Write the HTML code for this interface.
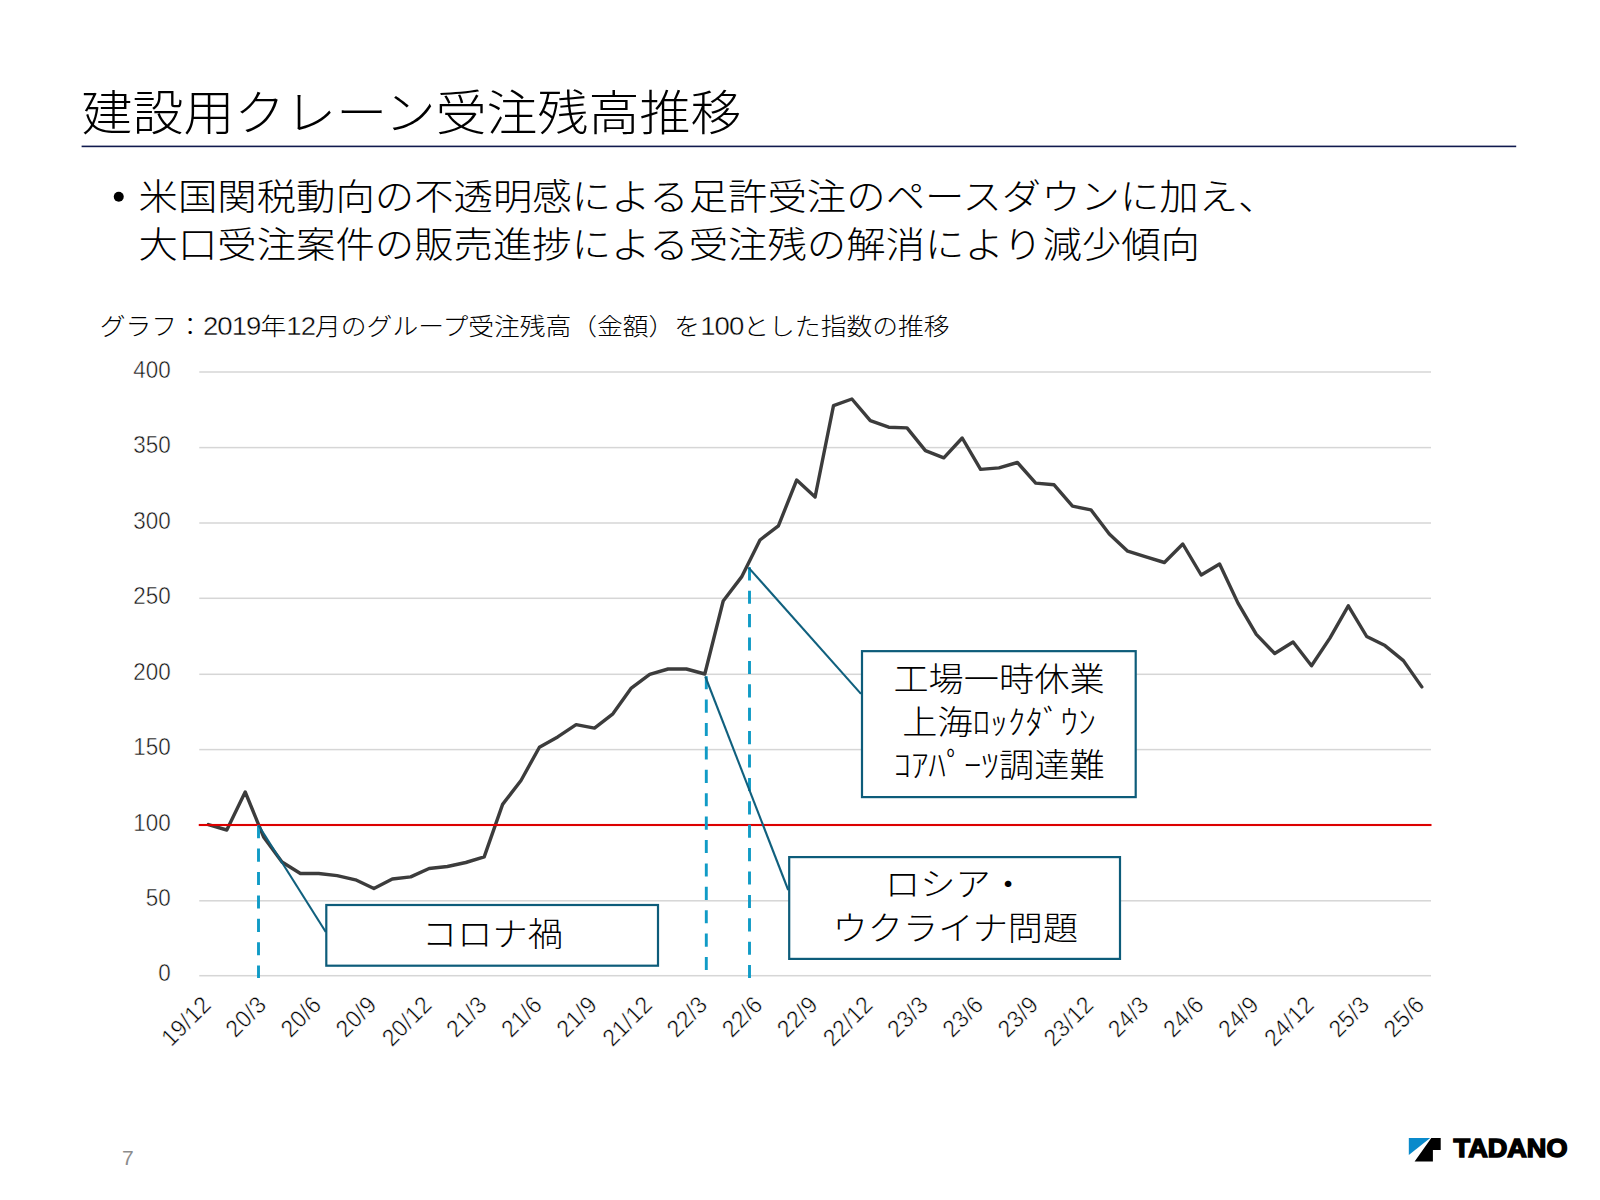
<!DOCTYPE html>
<html lang="ja">
<head>
<meta charset="utf-8">
<title>建設用クレーン受注残高推移</title>
<style>
html,body{margin:0;padding:0;background:#fff;}
body{width:1600px;height:1200px;overflow:hidden;position:relative;font-family:'Liberation Sans','Noto Sans CJK JP',sans-serif;}
svg{position:absolute;left:0;top:0;display:block;}
text{font-family:'Liberation Sans','Noto Sans CJK JP',sans-serif;}
.t300{font-weight:300;}
.t400{font-weight:400;}
.thin{stroke:#fff;stroke-width:0.45px;}
.cd{font-size:27.6px;letter-spacing:-0.95px;}
.t700{font-weight:700;}
</style>
</head>
<body>
<svg width="1600" height="1200" viewBox="0 0 1600 1200">
<rect x="0" y="0" width="1600" height="1200" fill="#ffffff"/>
<text class="t300" transform="translate(81.5,129.9) scale(1.0,0.93)" font-size="50.97" fill="#000">建設用クレーン受注残高推移</text>
<rect x="81.6" y="145.6" width="1434.6" height="1.6" fill="#101a4e"/>
<circle cx="118.75" cy="196.75" r="5" fill="#000"/>
<text class="t300" transform="translate(138.5,209.6) scale(1.0,0.93)" font-size="39.4" fill="#000">米国関税動向の不透明感による足許受注のペースダウンに加え、</text>
<text class="t300" transform="translate(138.5,258.2) scale(1.0,0.93)" font-size="39.4" fill="#000">大口受注案件の販売進捗による受注残の解消により減少傾向</text>
<text class="t300" transform="translate(99.8,334.5) scale(1.0,0.92)" font-size="25.8" fill="#000">グラフ：<tspan class="thin cd">2019</tspan>年<tspan class="thin cd">12</tspan>月のグループ受注残高（金額）を<tspan class="thin cd">100</tspan>とした指数の推移</text>
<rect x="199.25" y="371.25" width="1231.75" height="1.5" fill="#d6d6d6"/>
<rect x="199.25" y="446.85" width="1231.75" height="1.5" fill="#d6d6d6"/>
<rect x="199.25" y="522.25" width="1231.75" height="1.5" fill="#d6d6d6"/>
<rect x="199.25" y="597.55" width="1231.75" height="1.5" fill="#d6d6d6"/>
<rect x="199.25" y="673.55" width="1231.75" height="1.5" fill="#d6d6d6"/>
<rect x="199.25" y="748.85" width="1231.75" height="1.5" fill="#d6d6d6"/>
<rect x="199.25" y="900.05" width="1231.75" height="1.5" fill="#d6d6d6"/>
<rect x="199.25" y="974.95" width="1231.75" height="1.5" fill="#d6d6d6"/>
<text class="t300 thin" transform="translate(170.6,377.6) scale(1.0,1.07)" font-size="22.4" text-anchor="end" fill="#141414">400</text>
<text class="t300 thin" transform="translate(170.6,453.2) scale(1.0,1.07)" font-size="22.4" text-anchor="end" fill="#141414">350</text>
<text class="t300 thin" transform="translate(170.6,528.6) scale(1.0,1.07)" font-size="22.4" text-anchor="end" fill="#141414">300</text>
<text class="t300 thin" transform="translate(170.6,603.9) scale(1.0,1.07)" font-size="22.4" text-anchor="end" fill="#141414">250</text>
<text class="t300 thin" transform="translate(170.6,679.9) scale(1.0,1.07)" font-size="22.4" text-anchor="end" fill="#141414">200</text>
<text class="t300 thin" transform="translate(170.6,755.2) scale(1.0,1.07)" font-size="22.4" text-anchor="end" fill="#141414">150</text>
<text class="t300 thin" transform="translate(170.6,830.6) scale(1.0,1.07)" font-size="22.4" text-anchor="end" fill="#141414">100</text>
<text class="t300 thin" transform="translate(170.6,906.4) scale(1.0,1.07)" font-size="22.4" text-anchor="end" fill="#141414">50</text>
<text class="t300 thin" transform="translate(170.6,981.3) scale(1.0,1.07)" font-size="22.4" text-anchor="end" fill="#141414">0</text>
<text class="t300 thin" transform="translate(212.6,1006.2) rotate(-45) scale(1,1.07)" font-size="22.5" letter-spacing="0.45" text-anchor="end" fill="#000">19/12</text>
<text class="t300 thin" transform="translate(267.8,1006.2) rotate(-45) scale(1,1.07)" font-size="22.5" letter-spacing="0.45" text-anchor="end" fill="#000">20/3</text>
<text class="t300 thin" transform="translate(322.9,1006.2) rotate(-45) scale(1,1.07)" font-size="22.5" letter-spacing="0.45" text-anchor="end" fill="#000">20/6</text>
<text class="t300 thin" transform="translate(378.1,1006.2) rotate(-45) scale(1,1.07)" font-size="22.5" letter-spacing="0.45" text-anchor="end" fill="#000">20/9</text>
<text class="t300 thin" transform="translate(433.3,1006.2) rotate(-45) scale(1,1.07)" font-size="22.5" letter-spacing="0.45" text-anchor="end" fill="#000">20/12</text>
<text class="t300 thin" transform="translate(488.4,1006.2) rotate(-45) scale(1,1.07)" font-size="22.5" letter-spacing="0.45" text-anchor="end" fill="#000">21/3</text>
<text class="t300 thin" transform="translate(543.6,1006.2) rotate(-45) scale(1,1.07)" font-size="22.5" letter-spacing="0.45" text-anchor="end" fill="#000">21/6</text>
<text class="t300 thin" transform="translate(598.7,1006.2) rotate(-45) scale(1,1.07)" font-size="22.5" letter-spacing="0.45" text-anchor="end" fill="#000">21/9</text>
<text class="t300 thin" transform="translate(653.9,1006.2) rotate(-45) scale(1,1.07)" font-size="22.5" letter-spacing="0.45" text-anchor="end" fill="#000">21/12</text>
<text class="t300 thin" transform="translate(709.0,1006.2) rotate(-45) scale(1,1.07)" font-size="22.5" letter-spacing="0.45" text-anchor="end" fill="#000">22/3</text>
<text class="t300 thin" transform="translate(764.2,1006.2) rotate(-45) scale(1,1.07)" font-size="22.5" letter-spacing="0.45" text-anchor="end" fill="#000">22/6</text>
<text class="t300 thin" transform="translate(819.3,1006.2) rotate(-45) scale(1,1.07)" font-size="22.5" letter-spacing="0.45" text-anchor="end" fill="#000">22/9</text>
<text class="t300 thin" transform="translate(874.5,1006.2) rotate(-45) scale(1,1.07)" font-size="22.5" letter-spacing="0.45" text-anchor="end" fill="#000">22/12</text>
<text class="t300 thin" transform="translate(929.6,1006.2) rotate(-45) scale(1,1.07)" font-size="22.5" letter-spacing="0.45" text-anchor="end" fill="#000">23/3</text>
<text class="t300 thin" transform="translate(984.8,1006.2) rotate(-45) scale(1,1.07)" font-size="22.5" letter-spacing="0.45" text-anchor="end" fill="#000">23/6</text>
<text class="t300 thin" transform="translate(1039.9,1006.2) rotate(-45) scale(1,1.07)" font-size="22.5" letter-spacing="0.45" text-anchor="end" fill="#000">23/9</text>
<text class="t300 thin" transform="translate(1095.1,1006.2) rotate(-45) scale(1,1.07)" font-size="22.5" letter-spacing="0.45" text-anchor="end" fill="#000">23/12</text>
<text class="t300 thin" transform="translate(1150.2,1006.2) rotate(-45) scale(1,1.07)" font-size="22.5" letter-spacing="0.45" text-anchor="end" fill="#000">24/3</text>
<text class="t300 thin" transform="translate(1205.4,1006.2) rotate(-45) scale(1,1.07)" font-size="22.5" letter-spacing="0.45" text-anchor="end" fill="#000">24/6</text>
<text class="t300 thin" transform="translate(1260.5,1006.2) rotate(-45) scale(1,1.07)" font-size="22.5" letter-spacing="0.45" text-anchor="end" fill="#000">24/9</text>
<text class="t300 thin" transform="translate(1315.7,1006.2) rotate(-45) scale(1,1.07)" font-size="22.5" letter-spacing="0.45" text-anchor="end" fill="#000">24/12</text>
<text class="t300 thin" transform="translate(1370.9,1006.2) rotate(-45) scale(1,1.07)" font-size="22.5" letter-spacing="0.45" text-anchor="end" fill="#000">25/3</text>
<text class="t300 thin" transform="translate(1426.0,1006.2) rotate(-45) scale(1,1.07)" font-size="22.5" letter-spacing="0.45" text-anchor="end" fill="#000">25/6</text>
<polyline points="208.4,824.6 226.8,830.0 245.2,792.0 263.6,836.9 282.0,862.0 300.4,873.5 318.7,873.5 337.1,875.6 355.5,879.8 373.9,888.5 392.3,879.0 410.7,876.9 429.1,868.5 447.4,866.5 465.8,862.5 484.2,856.9 502.6,804.4 521.0,780.5 539.4,747.2 557.7,736.9 576.1,724.6 594.5,728.1 612.9,713.8 631.3,688.1 649.7,674.4 668.1,669.0 686.4,669.0 704.8,674.0 723.2,601.0 741.6,576.9 760.0,540.0 778.4,525.9 796.7,480.0 815.1,497.0 833.5,405.6 851.9,399.0 870.3,420.6 888.7,427.2 907.0,427.9 925.4,450.6 943.8,457.8 962.2,438.0 980.6,469.4 999.0,467.9 1017.4,462.5 1035.7,483.1 1054.1,484.8 1072.5,506.2 1090.9,509.8 1109.3,534.0 1127.7,551.2 1146.0,556.9 1164.4,562.5 1182.8,544.0 1201.2,575.0 1219.6,564.0 1238.0,603.1 1256.3,634.4 1274.7,653.5 1293.1,642.0 1311.5,665.8 1329.9,638.1 1348.3,605.8 1366.7,636.5 1385.0,645.6 1403.4,660.6 1421.8,686.9" fill="none" stroke="#3c3c3c" stroke-width="3.4" stroke-linejoin="round" stroke-linecap="round"/>
<rect x="198.75" y="823.95" width="1232.75" height="2.1" fill="#dc0000"/>
<line x1="258.5" y1="825.2" x2="258.5" y2="978" stroke="#109bc6" stroke-width="2.9" stroke-dasharray="13.1 10.3"/>
<line x1="706.3" y1="676.2" x2="706.3" y2="978" stroke="#109bc6" stroke-width="2.9" stroke-dasharray="13.1 10.3"/>
<line x1="749.5" y1="567.3" x2="749.5" y2="978" stroke="#109bc6" stroke-width="2.9" stroke-dasharray="13.1 10.3"/>
<line x1="258.5" y1="825.2" x2="325.8" y2="932" stroke="#10607e" stroke-width="2.1"/>
<line x1="705.3" y1="676.5" x2="788.2" y2="890" stroke="#10607e" stroke-width="2.1"/>
<line x1="748.6" y1="567.6" x2="861" y2="693.9" stroke="#10607e" stroke-width="2.1"/>
<rect x="326.3" y="905.0" width="331.7" height="60.7" fill="#fff" stroke="#0d5c7a" stroke-width="2.2"/>
<rect x="789.2" y="857.1" width="330.8" height="101.8" fill="#fff" stroke="#0d5c7a" stroke-width="2.2"/>
<rect x="862" y="651.15" width="273.7" height="145.95" fill="#fff" stroke="#0d5c7a" stroke-width="2.2"/>
<text class="t300" transform="translate(492.5,945.6) scale(1.0,0.93)" font-size="35.2" text-anchor="middle" fill="#000">コロナ禍</text>
<text class="t300" transform="translate(955.4,895.9) scale(1.0,0.93)" font-size="35.2" text-anchor="middle" fill="#000">ロシア・</text>
<text class="t300" transform="translate(955.4,939.5) scale(1.0,0.93)" font-size="35.2" text-anchor="middle" fill="#000">ウクライナ問題</text>
<text class="t300" transform="translate(999,690.6) scale(1.0,0.93)" font-size="35.2" text-anchor="middle" fill="#000">工場一時休業</text>
<text class="t300" transform="translate(999,733.6) scale(1.0,0.93)" font-size="35.2" text-anchor="middle" fill="#000">上海ﾛｯｸﾀﾞｳﾝ</text>
<text class="t300" transform="translate(999,776.6) scale(1.0,0.93)" font-size="35.2" text-anchor="middle" fill="#000">ｺｱﾊﾟｰﾂ調達難</text>
<text class="t400" transform="translate(122,1165)" font-size="21" fill="#8c8c8c">7</text>
<polygon points="1408.8,1138.1 1430.2,1138.1 1408.8,1155" fill="#0a8acb"/>
<polygon points="1431.3,1138.1 1440.7,1138.1 1440.7,1150 1432.9,1150 1432.9,1161.5 1414.6,1161.5" fill="#000"/>
<text class="t700" x="1453.6" y="1157.2" font-size="26.3" fill="#000" stroke="#000" stroke-width="1.5" textLength="113.9" lengthAdjust="spacingAndGlyphs">TADANO</text>
</svg>
</body>
</html>
